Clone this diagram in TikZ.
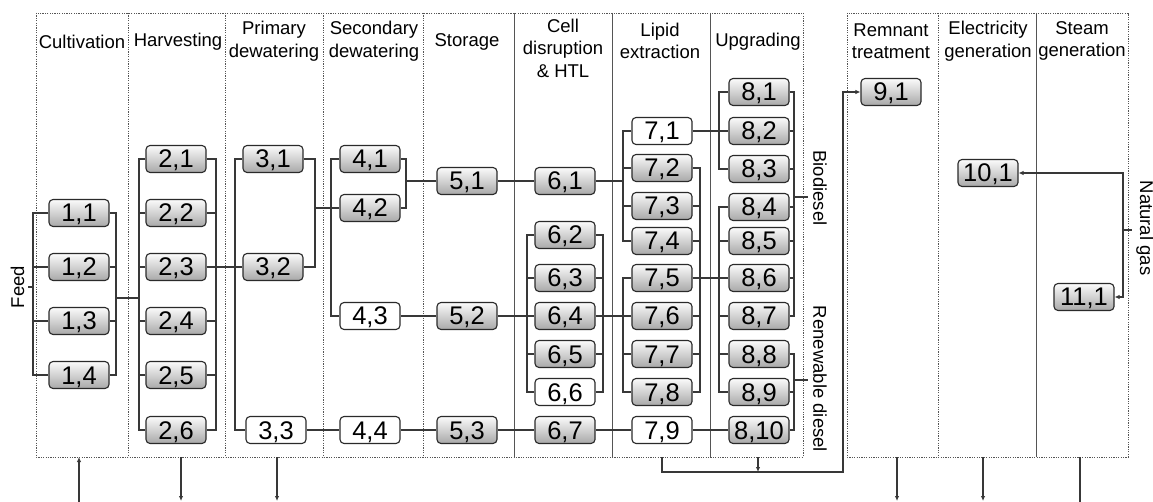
\documentclass[tikz,border=0pt]{standalone}
\usepackage{fontspec}
\setmainfont{Liberation Sans}
\usetikzlibrary{arrows.meta}
\definecolor{wirec}{HTML}{383838}
\definecolor{edgec}{HTML}{2A2A2A}
\definecolor{framec}{HTML}{555555}
\begin{document}
\begin{tikzpicture}[x=1pt, y=-1pt, font=\fontsize{18.5}{22.5}\selectfont,
  unit/.style={draw=edgec, line width=1.1pt, rounded corners=4pt, minimum width=60pt,
    minimum height=27pt, inner sep=0pt, text height=18pt, text depth=0pt,
    font=\fontsize{25.5}{26}\selectfont},
  box/.style={unit, top color=gray!3, bottom color=gray!68},
  wbox/.style={unit, fill=white},
  wire/.style={draw=wirec, line width=1.2pt},
  arr/.style={wire, -{Latex[length=5pt, width=4.5pt]}},
  frame/.style={draw=framec, line width=0.9pt, dash pattern=on 1.2pt off 1.2pt},
  divider/.style={draw=framec, line width=0.8pt},
  hd/.style={align=center}]
  \useasboundingbox (0,0) rectangle (1153,502);
  % frames
  \draw[frame] (36,13) rectangle (803,457);
  \draw[frame] (847,13) rectangle (1128,457);
  \foreach \x in {128,225,323,423,938} \draw[frame] (\x,13) -- (\x,457);
  \foreach \x in {514,612,710,1036} \draw[divider] (\x,13) -- (\x,457);
  % headers
  \node[hd] (h1) at (82,41.5) {Cultivation};
  \node[hd] (h2) at (178,41.5) {Harvesting};
  \node[hd] (h3) at (274,41) {Primary\\dewatering};
  \node[hd] (h4) at (374,41) {Secondary\\dewatering};
  \node[hd] (h5) at (467,41.5) {Storage};
  \node[hd] (h6) at (563,48) {Cell\\disruption\\\& HTL};
  \node[hd] (h7) at (660,41) {Lipid\\extraction};
  \node[hd] (h8) at (758,41.5) {Upgrading};
  \node[hd] (h9) at (891,41) {Remnant\\treatment};
  \node[hd] (h10) at (988,41) {Electricity\\generation};
  \node[hd] (h11) at (1082,41) {Steam\\generation};
  % units
  \foreach \i/\y in {1/213,2/267,3/321,4/375} \node[box] (n1-\i) at (79,\y) {1,\i};
  \foreach \i/\y in {1/159,2/213,3/267,4/321,5/375,6/430} \node[box] (n2-\i) at (176,\y) {2,\i};
  \node[box] (n3-1) at (273,159) {3,1};
  \node[box] (n3-2) at (273,267) {3,2};
  \node[wbox] (n3-3) at (276,430) {3,3};
  \node[box] (n4-1) at (370,159) {4,1};
  \node[box] (n4-2) at (370,208) {4,2};
  \node[wbox] (n4-3) at (370,316) {4,3};
  \node[wbox] (n4-4) at (370,430) {4,4};
  \foreach \i/\y in {1/181,2/316,3/430} \node[box] (n5-\i) at (467,\y) {5,\i};
  \foreach \i/\y in {1/181,2/235,3/278,4/316,5/354,7/430} \node[box] (n6-\i) at (565,\y) {6,\i};
  \node[wbox] (n6-6) at (565,392) {6,6};
  \node[wbox] (n7-1) at (662,131) {7,1};
  \foreach \i/\y in {2/168,3/206,4/241,5/278,6/316,7/354,8/392} \node[box] (n7-\i) at (662,\y) {7,\i};
  \node[wbox] (n7-9) at (662,430) {7,9};
  \foreach \i/\y in {1/92,2/131,3/169,4/207,5/241,6/278,7/316,8/354,9/392,10/430}
    \node[box] (n8-\i) at (759,\y) {8,\i};
  \node[box] (n9-1) at (891,92) {9,1};
  \node[box] (n10-1) at (988,173) {10,1};
  \node[box] (n11-1) at (1084,297) {11,1};
  % side labels
  \node[rotate=90] (feed) at (17.5,287) {Feed};
  \node[rotate=-90] (bio) at (820,188) {Biodiesel};
  \node[rotate=-90] (rd) at (820,379) {Renewable diesel};
  \node[rotate=-90] (gas) at (1145,228) {Natural gas};
  % bus lines
  \foreach \b/\x in {b1/33,b2/116,b3/139,b4/216,b5/235,b6/315,b7/331,b8/406,
      b9/527,b10/623,b11/603,b12/700,b13/719,b14/794}
    \coordinate (\b) at (\x,0);
  % cultivation
  \coordinate (tfeed) at (28,287);
  \draw[wire] (tfeed) -- (b1 |- tfeed);
  \draw[wire] (n1-1.west) -| (b1 |- n1-4.west) -- (n1-4.west);
  \draw[wire] (n1-1.east) -| (b2 |- n1-4.east) -- (n1-4.east);
  \foreach \i in {2,3} \draw[wire] (n1-\i.west) -- (b1 |- n1-\i.west) (n1-\i.east) -- (b2 |- n1-\i.east);
  \coordinate (j1) at (116,298);
  \draw[wire] (j1) -- (b3 |- j1);
  % harvesting
  \draw[wire] (n2-1.west) -| (b3 |- n2-6.west) -- (n2-6.west);
  \draw[wire] (n2-1.east) -| (b4 |- n2-6.east) -- (n2-6.east);
  \foreach \i in {2,...,5} \draw[wire] (n2-\i.west) -- (b3 |- n2-\i.west) (n2-\i.east) -- (b4 |- n2-\i.east);
  \draw[wire] (n2-3.east) -- (n3-2.west);
  % dewatering
  \draw[wire] (n3-1.west) -| (b5 |- n3-3.west) -- (n3-3.west);
  \draw[wire] (n3-1.east) -| (b6 |- n3-2.east) -- (n3-2.east);
  \draw[wire] (n4-2.west) -- (b6 |- n4-2.west);
  \draw[wire] (n4-1.west) -| (b7 |- n4-3.west) -- (n4-3.west);
  \draw[wire] (n4-1.east) -| (b8 |- n4-2.east) -- (n4-2.east);
  \draw[wire] (n5-1.west) -- (b8 |- n5-1.west);
  % straight runs
  \draw[wire] (n3-3) -- (n4-4) -- (n5-3) -- (n6-7) -- (n7-9) -- (n8-10);
  \draw[wire] (n4-3) -- (n5-2) -- (n6-4) -- (n7-6);
  \draw[wire] (n5-1) -- (n6-1);
  \draw[wire] (n6-1.east) -- (b10 |- n6-1.east);
  \draw[wire] (n7-1) -- (n8-2);
  \draw[wire] (n7-5) -- (n8-6);
  % cell disruption
  \draw[wire] (n6-2.west) -| (b9 |- n6-6.west) -- (n6-6.west);
  \draw[wire] (n6-2.east) -| (b11 |- n6-6.east) -- (n6-6.east);
  \foreach \i in {3,5} \draw[wire] (n6-\i.west) -- (b9 |- n6-\i.west) (n6-\i.east) -- (b11 |- n6-\i.east);
  % lipid extraction
  \draw[wire] (n7-1.west) -| (b10 |- n7-4.west) -- (n7-4.west);
  \draw[wire] (n7-5.west) -| (b10 |- n7-8.west) -- (n7-8.west);
  \foreach \i in {2,3,7} \draw[wire] (n7-\i.west) -- (b10 |- n7-\i.west);
  \draw[wire] (n7-2.east) -| (b12 |- n7-8.east) -- (n7-8.east);
  \foreach \i in {3,4,6,7} \draw[wire] (n7-\i.east) -- (b12 |- n7-\i.east);
  % upgrading
  \draw[wire] (n8-1.west) -| (b13 |- n8-3.west) -- (n8-3.west);
  \draw[wire] (n8-4.west) -| (b13 |- n8-9.west) -- (n8-9.west);
  \foreach \i in {5,7,8} \draw[wire] (n8-\i.west) -- (b13 |- n8-\i.west);
  \draw[wire] (n8-1.east) -| (b14 |- n8-7.east) -- (n8-7.east);
  \draw[wire] (n8-8.east) -| (b14 |- n8-10.east) -- (n8-10.east);
  \foreach \i in {2,...,6,9} \draw[wire] (n8-\i.east) -- (b14 |- n8-\i.east);
  \coordinate (tbio) at (808,197);
  \coordinate (trd) at (808,380);
  \draw[wire] (b14 |- tbio) -- (tbio);
  \draw[wire] (b14 |- trd) -- (trd);
  % natural gas
  \coordinate (bng) at (1123,230);
  \coordinate (tng) at (1131.5,230);
  \draw[wire] (bng) -- (tng);
  \draw[arr] (bng) |- (n10-1.east);
  \draw[arr] (bng) |- (n11-1.east);
  % flows below the frames
  \coordinate (fb) at (0,457);
  \coordinate (in1) at (79,502);
  \draw[arr] (in1) -- (in1 |- fb);
  \foreach \x in {181,277,897,983} {
    \coordinate (out) at (\x,501);
    \draw[arr] (out |- fb) -- (out);
  }
  \coordinate (out11) at (1080,502);
  \draw[wire] (out11 |- fb) -- (out11);
  \coordinate (col) at (662,472);
  \coordinate (rise) at (843,472);
  \coordinate (up8) at (758,472);
  \draw[arr] (col |- fb) -- (col) -- (rise) |- (n9-1.west);
  \draw[arr] (up8 |- fb) -- (up8);
\end{tikzpicture}
\end{document}
